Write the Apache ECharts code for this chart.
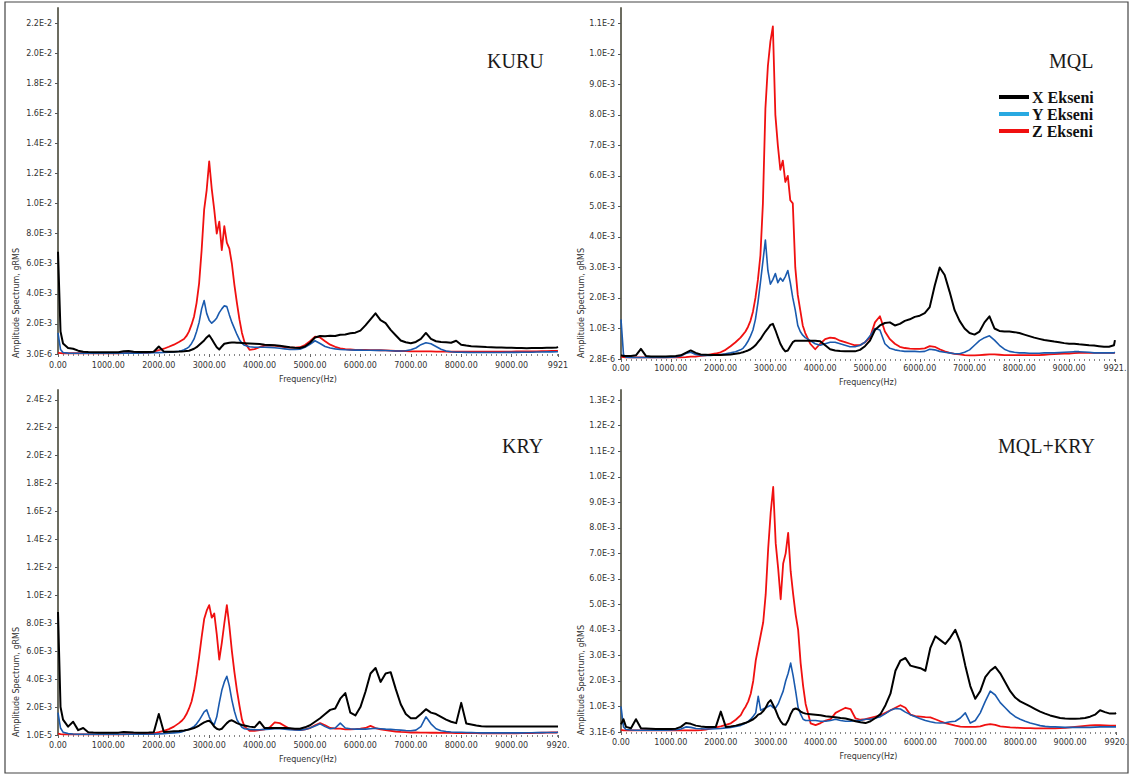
<!DOCTYPE html>
<html>
<head>
<meta charset="utf-8">
<script src="https://cdn.jsdelivr.net/npm/echarts@6/dist/echarts.min.js"></script>
<style>
  html, body { margin: 0; padding: 0; background: #ffffff; }
  #chart { width: 1133px; height: 778px; }
</style>
</head>
<body>
<div id="chart"></div>
<script>
// Frequency bins (Hz) shared by every spectrum
const freqHz = [
  0, 50, 100,
  200, 300, 400, 500, 600, 700, 800, 900, 1000, 1100, 1200, 1300, 1400, 1500, 1600, 1700, 1800, 1900, 2000, 2100, 2200, 2300, 2400,
  2450, 2500, 2550, 2600, 2650, 2700, 2750, 2800, 2850, 2900, 2950, 3000, 3050, 3100, 3150, 3200, 3250, 3300, 3350, 3400, 3450, 3500, 3550, 3600, 3650, 3700,
  3800, 3900, 4000, 4100, 4200, 4300, 4400, 4500, 4600, 4700, 4800, 4900,
  5000, 5100, 5200, 5300, 5400, 5500, 5600, 5700, 5800, 5900,
  6000, 6100, 6200, 6300, 6400, 6500, 6600, 6700, 6800, 6900,
  7000, 7100, 7200, 7300, 7400, 7500, 7600, 7700, 7800, 7900,
  8000, 8100, 8200, 8300, 8400, 8500, 8600, 8700, 8800, 8900,
  9000, 9100, 9200, 9300, 9400, 9500, 9600, 9700, 9800, 9900,
  9920
];

// Amplitudes in milli-gRMS (1e-3 gRMS)
// KURU (dry)
const kuruX = [
  6.8, 1.5, 0.7,
  0.4, 0.35, 0.22, 0.15, 0.13, 0.12, 0.12, 0.11, 0.11, 0.12, 0.12, 0.18, 0.2, 0.15, 0.14, 0.13, 0.13, 0.15, 0.5, 0.16, 0.15, 0.15, 0.16,
  0.17, 0.18, 0.2, 0.22, 0.28, 0.35, 0.45, 0.6, 0.75, 0.9, 1.1, 1.25, 1.0, 0.72, 0.45, 0.3, 0.5, 0.68, 0.72, 0.75, 0.76, 0.76, 0.75, 0.74, 0.73, 0.72,
  0.7, 0.68, 0.66, 0.62, 0.6, 0.58, 0.55, 0.5, 0.45, 0.42, 0.4, 0.5,
  0.75, 1.1, 1.2, 1.18, 1.22, 1.2, 1.28, 1.3, 1.38, 1.42,
  1.55, 1.9, 2.3, 2.7, 2.25, 2.05, 1.6, 1.25, 0.9, 0.78,
  0.72, 0.8, 1.0, 1.4, 1.0, 0.85, 0.8, 0.78, 0.75, 0.88,
  0.62, 0.56, 0.52, 0.5, 0.48, 0.46, 0.45, 0.44, 0.43, 0.42,
  0.41, 0.4, 0.4, 0.39, 0.4, 0.4, 0.4, 0.41, 0.42, 0.44,
  0.48
];
const kuruY = [
  1.4, 0.3, 0.1,
  0.06, 0.05, 0.05, 0.05, 0.05, 0.05, 0.05, 0.05, 0.05, 0.05, 0.05, 0.06, 0.06, 0.06, 0.06, 0.07, 0.07, 0.08, 0.09, 0.1, 0.12, 0.14, 0.18,
  0.22, 0.28, 0.36, 0.48, 0.7, 1.0, 1.5, 2.1, 3.0, 3.55, 2.7, 2.25, 2.05, 2.2, 2.4, 2.75, 3.0, 3.2, 3.15, 2.6, 2.1, 1.7, 1.3, 0.95, 0.72, 0.58,
  0.48, 0.45, 0.45, 0.45, 0.44, 0.42, 0.38, 0.34, 0.3, 0.3, 0.32, 0.45,
  0.65, 0.88, 0.7, 0.5, 0.4, 0.34, 0.3, 0.28, 0.27, 0.26,
  0.26, 0.25, 0.25, 0.24, 0.24, 0.23, 0.22, 0.2, 0.2, 0.22,
  0.28, 0.4, 0.62, 0.75, 0.68, 0.5, 0.32, 0.2, 0.15, 0.12,
  0.12, 0.11, 0.1, 0.1, 0.1, 0.1, 0.1, 0.1, 0.1, 0.11,
  0.11, 0.11, 0.12, 0.12, 0.12, 0.13, 0.13, 0.14, 0.14, 0.15,
  0.15
];
const kuruZ = [
  0.08, 0.06, 0.05,
  0.05, 0.05, 0.05, 0.05, 0.05, 0.05, 0.05, 0.05, 0.05, 0.05, 0.05, 0.06, 0.06, 0.06, 0.07, 0.08, 0.1, 0.16, 0.25, 0.35, 0.48, 0.62, 0.8,
  0.9, 1.0, 1.2, 1.5, 1.95, 2.5, 3.4, 4.7, 6.9, 9.6, 10.9, 12.8, 11.0, 9.6, 8.0, 8.8, 6.9, 8.5, 7.4, 7.0, 6.0, 4.6, 3.4, 2.3, 1.4, 0.8,
  0.28, 0.32, 0.45, 0.55, 0.58, 0.55, 0.5, 0.45, 0.42, 0.42, 0.45, 0.6,
  0.85, 1.15, 1.1, 0.85, 0.62, 0.48, 0.38, 0.32, 0.3, 0.28,
  0.28, 0.27, 0.26, 0.26, 0.25, 0.24, 0.22, 0.2, 0.2, 0.2,
  0.18, 0.18, 0.17, 0.17, 0.17, 0.16, 0.16, 0.16, 0.15, 0.15,
  0.15, 0.15, 0.15, 0.15, 0.15, 0.15, 0.15, 0.16, 0.16, 0.16,
  0.16, 0.17, 0.17, 0.18, 0.18, 0.18, 0.19, 0.19, 0.2, 0.2,
  0.2
];

// MQL
const mqlX = [
  0.12, 0.1, 0.1,
  0.1, 0.12, 0.33, 0.1, 0.08, 0.08, 0.08, 0.08, 0.09, 0.1, 0.12, 0.2, 0.28, 0.2, 0.15, 0.14, 0.13, 0.13, 0.13, 0.14, 0.15, 0.17, 0.2,
  0.22, 0.25, 0.28, 0.32, 0.38, 0.45, 0.55, 0.65, 0.78, 0.9, 1.0, 1.12, 1.15, 0.95, 0.72, 0.5, 0.35, 0.25, 0.28, 0.42, 0.55, 0.6, 0.6, 0.6, 0.6, 0.6,
  0.6, 0.6, 0.58, 0.45, 0.32, 0.28, 0.26, 0.25, 0.25, 0.25, 0.3, 0.42,
  0.6, 0.95, 1.1, 1.18, 1.2, 1.1, 1.15, 1.25, 1.3, 1.38,
  1.42, 1.5, 1.7, 2.4, 3.0, 2.75, 2.2, 1.6, 1.25, 1.0,
  0.85, 0.8, 0.9, 1.2, 1.4, 1.0, 0.92, 0.9, 0.9, 0.88,
  0.85, 0.8, 0.75, 0.7, 0.66, 0.62, 0.6, 0.57, 0.55, 0.52,
  0.5, 0.5, 0.48, 0.47, 0.45, 0.44, 0.42, 0.4, 0.4, 0.45,
  0.62
];
const mqlY = [
  1.3, 0.15, 0.06,
  0.05, 0.05, 0.05, 0.05, 0.05, 0.05, 0.05, 0.05, 0.06, 0.07, 0.1, 0.18, 0.22, 0.15, 0.12, 0.12, 0.12, 0.13, 0.15, 0.17, 0.2, 0.24, 0.3,
  0.35, 0.45, 0.58, 0.75, 0.95, 1.3, 1.85, 2.5, 3.2, 3.9, 2.9, 2.45, 2.6, 2.8, 2.5, 2.65, 2.55, 2.7, 2.9, 2.5, 2.0, 1.6, 1.1, 0.9, 0.78, 0.7,
  0.6, 0.5, 0.45, 0.5, 0.55, 0.55, 0.5, 0.45, 0.4, 0.4, 0.45, 0.55,
  0.75, 1.0, 0.95, 0.5, 0.35, 0.3, 0.27, 0.25, 0.25, 0.25,
  0.24, 0.25, 0.32, 0.3, 0.25, 0.22, 0.2, 0.17, 0.17, 0.22,
  0.3, 0.45, 0.6, 0.7, 0.76, 0.62, 0.45, 0.32, 0.25, 0.22,
  0.2, 0.2, 0.19, 0.19, 0.19, 0.2, 0.2, 0.2, 0.21, 0.22,
  0.23, 0.24, 0.24, 0.23, 0.22, 0.2, 0.2, 0.2, 0.2, 0.2,
  0.22
];
const mqlZ = [
  0.08, 0.06, 0.05,
  0.05, 0.05, 0.05, 0.05, 0.05, 0.05, 0.05, 0.05, 0.05, 0.05, 0.05, 0.06, 0.08, 0.08, 0.1, 0.12, 0.15, 0.18, 0.22, 0.3, 0.42, 0.55, 0.7,
  0.8, 0.9, 1.05, 1.25, 1.55, 2.0, 2.6, 3.4, 5.1, 8.2, 9.6, 10.4, 10.9, 8.0, 7.0, 6.2, 6.5, 5.8, 6.0, 5.2, 5.1, 3.0, 2.1, 1.6, 1.1, 0.85,
  0.5, 0.32, 0.5, 0.65, 0.7, 0.68, 0.6, 0.55, 0.5, 0.45, 0.45, 0.55,
  0.7, 1.2, 1.4, 0.9, 0.65, 0.5, 0.4, 0.36, 0.34, 0.33,
  0.33, 0.35, 0.42, 0.4, 0.32, 0.25, 0.2, 0.17, 0.15, 0.13,
  0.12, 0.12, 0.13, 0.14, 0.15, 0.15, 0.14, 0.13, 0.13, 0.13,
  0.13, 0.13, 0.13, 0.13, 0.13, 0.14, 0.15, 0.16, 0.17, 0.18,
  0.18, 0.19, 0.2, 0.2, 0.2, 0.2, 0.2, 0.2, 0.2, 0.2,
  0.2
];

// KRY (cryogenic)
const kryX = [
  8.8, 2.0, 1.1,
  0.6, 0.95, 0.35, 0.5, 0.2, 0.18, 0.17, 0.16, 0.16, 0.16, 0.17, 0.22, 0.2, 0.18, 0.17, 0.17, 0.18, 0.2, 1.5, 0.22, 0.24, 0.26, 0.28,
  0.3, 0.32, 0.35, 0.4, 0.45, 0.5, 0.58, 0.68, 0.8, 0.9, 0.98, 1.02, 0.85, 0.6, 0.45, 0.38, 0.45, 0.65, 0.85, 1.0, 1.05, 0.95, 0.85, 0.78, 0.72, 0.68,
  0.6, 0.55, 0.95, 0.5, 0.5, 0.5, 0.5, 0.5, 0.48, 0.45, 0.45, 0.55,
  0.7, 0.95, 1.2, 1.5, 1.8, 1.9, 2.6, 3.0, 1.6, 1.4,
  2.0, 3.1, 4.4, 4.8, 3.8, 4.4, 4.5, 3.3, 2.2, 1.5,
  1.2, 1.2, 1.5, 1.85, 1.6, 1.5, 1.3, 1.1, 0.95, 0.85,
  2.3, 0.82, 0.75, 0.68, 0.62, 0.6, 0.6, 0.6, 0.6, 0.6,
  0.6, 0.6, 0.6, 0.6, 0.6, 0.6, 0.6, 0.6, 0.6, 0.6,
  0.6
];
const kryY = [
  1.6, 0.5, 0.2,
  0.1, 0.07, 0.05, 0.05, 0.05, 0.05, 0.05, 0.05, 0.05, 0.05, 0.05, 0.05, 0.05, 0.05, 0.05, 0.05, 0.05, 0.06, 0.08, 0.1, 0.12, 0.15, 0.18,
  0.22, 0.28, 0.35, 0.42, 0.5, 0.62, 0.8, 1.05, 1.35, 1.65, 1.8, 1.3, 0.9, 0.75, 1.3, 2.3, 3.2, 3.8, 4.2, 3.5, 2.5, 1.7, 1.1, 0.8, 0.55, 0.45,
  0.4, 0.38, 0.38, 0.4, 0.42, 0.45, 0.45, 0.42, 0.38, 0.36, 0.35, 0.4,
  0.5, 0.65, 0.8, 0.6, 0.45, 0.5, 0.85, 0.5, 0.45, 0.42,
  0.42, 0.42, 0.45, 0.48, 0.45, 0.42, 0.4, 0.38, 0.35, 0.32,
  0.3, 0.35, 0.6, 1.3, 0.8, 0.45, 0.3, 0.25, 0.22, 0.2,
  0.2, 0.18, 0.17, 0.16, 0.15, 0.15, 0.15, 0.15, 0.15, 0.15,
  0.15, 0.15, 0.15, 0.16, 0.16, 0.17, 0.17, 0.18, 0.18, 0.19,
  0.2
];
const kryZ = [
  0.1, 0.06, 0.05,
  0.05, 0.05, 0.05, 0.05, 0.05, 0.05, 0.05, 0.05, 0.05, 0.05, 0.05, 0.05, 0.06, 0.06, 0.06, 0.07, 0.09, 0.12, 0.2, 0.3, 0.42, 0.6, 0.85,
  1.0, 1.2, 1.5, 1.9, 2.4, 3.2, 4.3, 5.6, 7.0, 8.3, 8.9, 9.3, 8.4, 8.7, 7.2, 5.4, 6.6, 8.0, 9.3, 7.8, 6.0, 4.5, 3.2, 2.1, 1.1, 0.6,
  0.3, 0.3, 0.35, 0.4, 0.55, 0.9, 0.85, 0.65, 0.45, 0.38, 0.35, 0.4,
  0.5, 0.7, 0.85, 0.7, 0.5, 0.45, 0.45, 0.4, 0.4, 0.42,
  0.45, 0.5, 0.65, 0.5, 0.4, 0.35, 0.3, 0.25, 0.22, 0.2,
  0.18, 0.18, 0.17, 0.17, 0.16, 0.16, 0.15, 0.15, 0.15, 0.14,
  0.14, 0.13, 0.13, 0.13, 0.12, 0.12, 0.12, 0.12, 0.12, 0.12,
  0.12, 0.12, 0.13, 0.13, 0.14, 0.15, 0.16, 0.17, 0.18, 0.18,
  0.2
];

// MQL+KRY
const mqlKryX = [
  0.3, 0.5, 0.2,
  0.15, 0.5, 0.15, 0.14, 0.13, 0.12, 0.12, 0.12, 0.12, 0.13, 0.2, 0.35, 0.32, 0.25, 0.22, 0.2, 0.2, 0.2, 0.8, 0.2, 0.22, 0.25, 0.3,
  0.33, 0.36, 0.4, 0.45, 0.5, 0.58, 0.68, 0.72, 0.82, 0.95, 1.15, 1.25, 1.05, 0.85, 0.6, 0.42, 0.3, 0.28, 0.45, 0.7, 0.88, 0.92, 0.88, 0.8, 0.75, 0.72,
  0.7, 0.68, 0.66, 0.62, 0.6, 0.58, 0.55, 0.53, 0.48, 0.42, 0.38, 0.35,
  0.42, 0.55, 0.7, 1.05, 1.5, 2.4, 2.8, 2.9, 2.6, 2.55,
  2.5, 2.4, 3.3, 3.75, 3.6, 3.45, 3.7, 4.0, 3.5, 2.6,
  1.8, 1.3, 1.6, 2.15, 2.4, 2.55, 2.3, 1.95, 1.6, 1.35,
  1.2, 1.1, 1.0, 0.9, 0.8, 0.72, 0.65, 0.6, 0.55, 0.53,
  0.52, 0.52, 0.53, 0.55, 0.6, 0.68, 0.85, 0.78, 0.72, 0.72,
  0.75
];
const mqlKryY = [
  1.0, 0.2, 0.1,
  0.08, 0.07, 0.07, 0.07, 0.07, 0.07, 0.07, 0.07, 0.08, 0.09, 0.12, 0.2, 0.18, 0.14, 0.13, 0.12, 0.12, 0.13, 0.14, 0.16, 0.18, 0.22, 0.26,
  0.3, 0.35, 0.42, 0.5, 0.62, 0.75, 1.4, 0.85, 0.9, 0.95, 1.0, 1.05, 0.95, 0.95, 1.1, 1.35, 1.6, 2.0, 2.3, 2.7, 2.2, 1.6, 0.95, 0.7, 0.5, 0.45,
  0.45, 0.45, 0.42, 0.42, 0.45, 0.5, 0.45, 0.42, 0.42, 0.45, 0.45, 0.5,
  0.5, 0.55, 0.6, 0.72, 0.85, 0.92, 0.9, 0.78, 0.68, 0.6,
  0.52, 0.45, 0.4, 0.36, 0.35, 0.36, 0.4, 0.42, 0.55, 0.75,
  0.35, 0.45, 0.75, 1.2, 1.6, 1.45, 1.15, 0.95, 0.75, 0.6,
  0.5, 0.42, 0.35, 0.3, 0.25, 0.22, 0.2, 0.2, 0.19, 0.18,
  0.18, 0.18, 0.18, 0.18, 0.18, 0.19, 0.2, 0.2, 0.2, 0.2,
  0.2
];
const mqlKryZ = [
  0.08, 0.06, 0.06,
  0.06, 0.06, 0.06, 0.06, 0.06, 0.06, 0.06, 0.06, 0.06, 0.06, 0.06, 0.06, 0.06, 0.06, 0.07, 0.09, 0.14, 0.18, 0.22, 0.28, 0.34, 0.48, 0.66,
  0.85, 1.0, 1.2, 1.5, 2.0, 2.8, 3.3, 3.8, 4.3, 5.4, 7.2, 8.6, 9.6, 7.4, 6.4, 5.2, 6.6, 7.0, 7.8, 6.3, 5.4, 4.6, 4.0, 2.7, 1.8, 1.1,
  0.34, 0.27, 0.35, 0.45, 0.5, 0.75, 0.85, 0.95, 0.9, 0.53, 0.48, 0.5,
  0.55, 0.6, 0.65, 0.75, 0.85, 0.95, 1.05, 0.95, 0.68, 0.62,
  0.6, 0.58, 0.57, 0.5, 0.42, 0.35, 0.3, 0.25, 0.21, 0.2,
  0.2, 0.2, 0.22, 0.28, 0.31, 0.28, 0.22, 0.2, 0.18, 0.17,
  0.16, 0.15, 0.15, 0.14, 0.14, 0.14, 0.14, 0.14, 0.15, 0.16,
  0.18, 0.2, 0.22, 0.24, 0.26, 0.27, 0.27, 0.26, 0.25, 0.25,
  0.25
];

// Panel captions, y tick values (milli-gRMS) and axis end labels
const panelTitles = ['KURU', 'MQL', 'KRY', 'MQL+KRY'];
const kuruTicks = [0, 2, 4, 6, 8, 10, 12, 14, 16, 18, 20, 22];
const mqlTicks = [0, 1, 2, 3, 4, 5, 6, 7, 8, 9, 10, 11];
const kryTicks = [0, 2, 4, 6, 8, 10, 12, 14, 16, 18, 20, 22, 24];
const mqlKryTicks = [0, 1, 2, 3, 4, 5, 6, 7, 8, 9, 10, 11, 12, 13];
const yMinLabels = ['3.0E-6', '2.8E-6', '1.0E-5', '3.1E-6'];
const xMaxHz = [9921, 9921, 9920, 9920];
const xEndLabels = ['9921', '9921.', '9920.', '9920.'];
const seriesNames = ['X Ekseni', 'Y Ekseni', 'Z Ekseni'];

const panelData = [
  [kuruX, kuruY, kuruZ],
  [mqlX, mqlY, mqlZ],
  [kryX, kryY, kryZ],
  [mqlKryX, mqlKryY, mqlKryZ]
];
const panelTicks = [kuruTicks, mqlTicks, kryTicks, mqlKryTicks];

// Layout of the four plot areas
const layout = [
  { left: 58,  top: 8,   width: 500, height: 346, yMax: 23,   xOffset: 2, nameX: 16,  nameY: 303 },
  { left: 621, top: 8,   width: 494, height: 351, yMax: 11.5, xOffset: 0, nameX: 581, nameY: 303 },
  { left: 58,  top: 390, width: 500, height: 345, yMax: 24.7, xOffset: 1, nameX: 16,  nameY: 682 },
  { left: 621, top: 390, width: 495, height: 342, yMax: 13.4, xOffset: 1, nameX: 581, nameY: 680 }
];
const titlePos = [
  { left: 487, top: 51 }, { left: 1049, top: 51 },
  { left: 502, top: 436 }, { left: 998, top: 436 }
];

const tickFont = { fontFamily: 'DejaVu Sans', fontSize: 8, color: '#333333' };
const lineColors = { X: '#000000', Y: '#1a5aae', Z: '#f01010' };
const lineWidths = { X: 2.0, Y: 1.6, Z: 1.8 };

const grids = [], xAxes = [], yAxes = [], series = [], titles = [], graphics = [];

layout.forEach((g, p) => {
  grids.push({ left: g.left, top: g.top, width: g.width, height: g.height, containLabel: false });

  xAxes.push({
    type: 'value', gridIndex: p, min: 0, max: xMaxHz[p], interval: 1000,
    offset: g.xOffset,
    axisLine: { show: false },
    axisTick: { show: true, length: 3, lineStyle: { color: '#666666', width: 1 } },
    minorTick: { show: true, splitNumber: 10, length: 2, lineStyle: { color: '#888888', width: 1 } },
    splitLine: { show: false },
    minorSplitLine: { show: false },
    axisLabel: Object.assign({
      margin: 5,
      formatter: v => (v === xMaxHz[p] ? xEndLabels[p] : v.toFixed(2))
    }, tickFont),
    name: 'Frequency(Hz)', nameLocation: 'middle', nameGap: 19,
    nameTextStyle: tickFont
  });

  yAxes.push({
    type: 'value', gridIndex: p, min: 0, max: g.yMax,
    axisLine: { show: true, lineStyle: { color: '#6c6c60', width: 2 } },
    axisTick: { show: true, length: 3, customValues: panelTicks[p], lineStyle: { color: '#555555' } },
    splitLine: { show: false },
    axisLabel: Object.assign({
      margin: 6,
      customValues: panelTicks[p],
      formatter: v => (v === 0 ? yMinLabels[p] : (v / 1000).toExponential(1).toUpperCase())
    }, tickFont)
  });

  titles.push({
    text: panelTitles[p], left: titlePos[p].left, top: titlePos[p].top, padding: 0,
    textStyle: { fontFamily: 'Liberation Serif', fontSize: 20, fontWeight: 'normal', color: '#1a1a1a' }
  });

  graphics.push({
    type: 'text', x: g.nameX, y: g.nameY, rotation: Math.PI / 2,
    style: {
      text: 'Amplitude Spectrum, gRMS', fontFamily: 'DejaVu Sans', fontSize: 8,
      fill: '#333333', align: 'center', verticalAlign: 'middle'
    }
  });

  // Z first, then Y, then X on top
  [2, 1, 0].forEach(k => {
    const key = ['X', 'Y', 'Z'][k];
    const values = panelData[p][k];
    series.push({
      type: 'line', name: seriesNames[k], xAxisIndex: p, yAxisIndex: p,
      data: freqHz.map((f, i) => [f, values[i]]),
      symbol: 'none', showSymbol: false, silent: true,
      color: key === 'Y' ? '#29a9e1' : lineColors[key],
      lineStyle: { color: lineColors[key], width: lineWidths[key], join: 'round' },
      z: 2 + (2 - k)
    });
  });
});

// Outer frame
graphics.push({
  type: 'rect', z: 0,
  shape: { x: 5, y: 2, width: 1123, height: 771 },
  style: { fill: 'none', stroke: '#444444', lineWidth: 1.2 }
});

const chart = echarts.init(document.getElementById('chart'), null, { renderer: 'svg' });
chart.setOption({
  animation: false,
  backgroundColor: '#ffffff',
  title: titles,
  legend: {
    data: [
      { name: 'X Ekseni' },
      { name: 'Y Ekseni' },
      { name: 'Z Ekseni' }
    ],
    orient: 'vertical', left: 999, top: 89, padding: 0,
    icon: 'rect', itemWidth: 30, itemHeight: 4, itemGap: 1,
    selectedMode: false,
    textStyle: { fontFamily: 'Liberation Serif', fontWeight: 'bold', fontSize: 16, color: '#111111', padding: [0, 0, 0, -2] }
  },
  grid: grids,
  xAxis: xAxes,
  yAxis: yAxes,
  series: series,
  graphic: graphics
});
</script>
</body>
</html>
